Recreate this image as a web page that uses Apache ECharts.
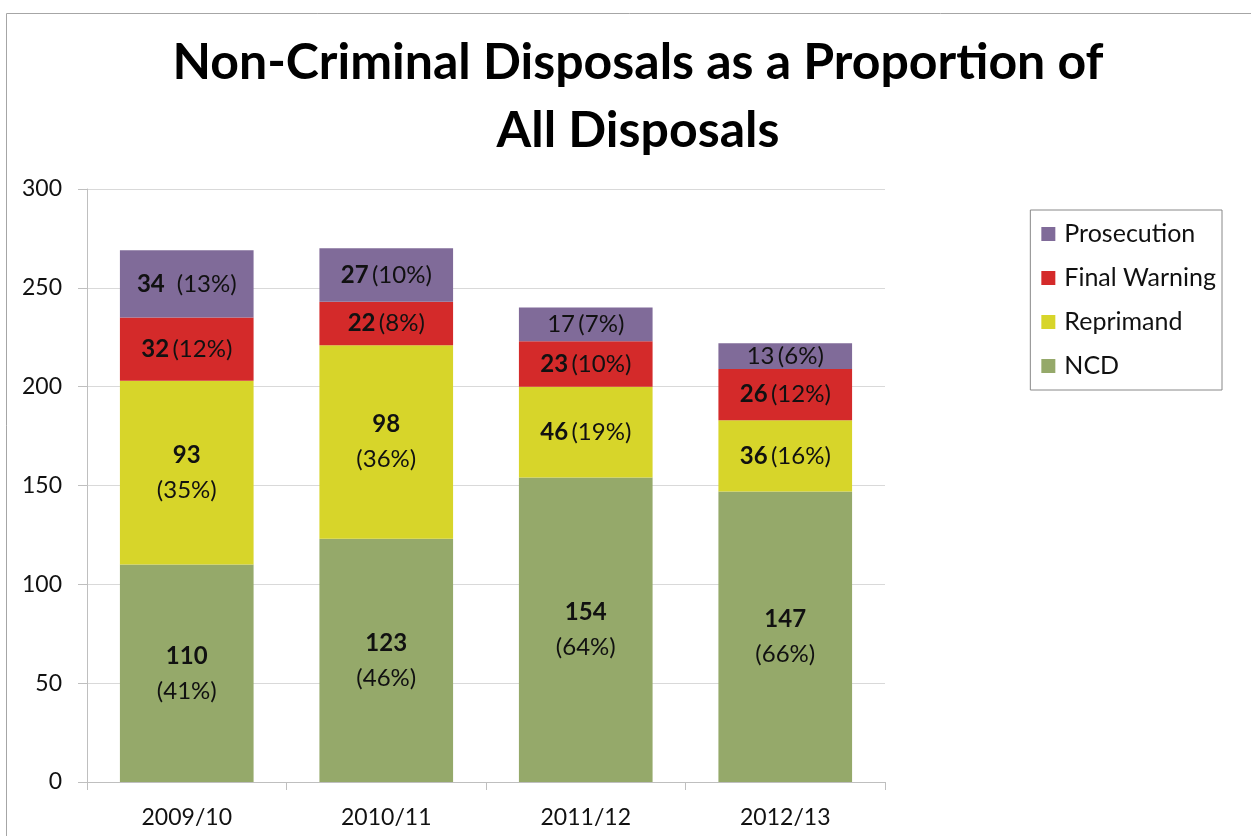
<!DOCTYPE html>
<html>
<head>
<meta charset="utf-8">
<script src="https://cdn.jsdelivr.net/npm/echarts@6/dist/echarts.min.js"></script>
<style>
  html, body { margin: 0; padding: 0; background: #fff; }
  #chart { width: 1251px; height: 836px; }
</style>
</head>
<body>
<div id="chart"></div>
<script>
// Disposal years and counts per disposal type
const years = ['2009/10', '2010/11', '2011/12', '2012/13'];
const ncd = [110, 123, 154, 147];
const reprimand = [93, 98, 46, 36];
const finalWarning = [32, 22, 23, 26];
const prosecution = [34, 27, 17, 13];

// Share of all disposals, as printed on each segment
const ncdPct = [41, 46, 64, 66];
const reprimandPct = [35, 36, 19, 16];
const finalWarningPct = [12, 8, 10, 12];
const prosecutionPct = [13, 10, 7, 6];

const FONT = 'Lato, "Open Sans", sans-serif';

// label layout per segment: stacked (two lines), bold count or not, extra gap
function makeFormatter(values, pcts, twoLine, boldFlags, gaps) {
  return function (p) {
    const i = p.dataIndex;
    const v = values[i];
    const pc = '(' + pcts[i] + '%)';
    const num = boldFlags[i] ? '{b|' + v + '}' : '{n|' + v + '}';
    const sep = twoLine[i] ? '\n' : (gaps[i] ? '{g|}' : ' ');
    return num + sep + '{n|' + pc + '}';
  };
}

const richText = {
  b: { fontFamily: FONT, fontSize: 24, fontWeight: 'bold', color: '#111', lineHeight: 35 },
  n: { fontFamily: FONT, fontSize: 24, color: '#111', lineHeight: 35 },
  g: { width: 12 }
};

function series(name, data, color, fmt) {
  return {
    name: name,
    type: 'bar',
    stack: 'total',
    barWidth: '67%',
    data: data,
    itemStyle: { color: color },
    label: { show: true, position: 'inside', formatter: fmt, rich: richText },
    emphasis: { disabled: true }
  };
}

const chart = echarts.init(document.getElementById('chart'));
chart.setOption({
  animation: false,
  backgroundColor: '#fff',
  title: {
    text: 'Non-Criminal Disposals as a Proportion of\nAll Disposals',
    left: 633,
    top: 24,
    textAlign: 'center',
    textStyle: { fontFamily: FONT, fontSize: 50, fontWeight: 'bold', color: '#000', lineHeight: 68 }
  },
  legend: {
    orient: 'vertical',
    right: 29,
    top: 210,
    data: ['Prosecution', 'Final Warning', 'Reprimand', 'NCD'],
    itemWidth: 14,
    itemHeight: 14,
    itemGap: 18,
    padding: [11, 6, 11, 11],
    borderColor: '#888',
    borderWidth: 1,
    icon: 'rect',
    textStyle: { fontFamily: FONT, fontSize: 25, color: '#111', lineHeight: 26, padding: [0, 0, 0, 4] }
  },
  grid: { left: 87, right: 366, top: 189, bottom: 54 },
  xAxis: {
    type: 'category',
    data: years,
    axisLine: { lineStyle: { color: '#bfbfbf' } },
    axisTick: { show: true, length: 8, lineStyle: { color: '#bfbfbf' } },
    axisLabel: { fontFamily: FONT, fontSize: 23, color: '#111', margin: 24 }
  },
  yAxis: {
    type: 'value',
    min: 0,
    max: 300,
    interval: 50,
    axisLine: { show: true, lineStyle: { color: '#bfbfbf' } },
    axisTick: { show: true, length: 9, lineStyle: { color: '#bfbfbf' } },
    axisLabel: { fontFamily: FONT, fontSize: 23, color: '#111', margin: 25 },
    splitLine: { lineStyle: { color: '#d9d9d9' } }
  },
  series: [
    series('NCD', ncd, '#95a96a',
      makeFormatter(ncd, ncdPct, [true, true, true, true], [true, true, true, true], [false, false, false, false])),
    series('Reprimand', reprimand, '#d7d52a',
      makeFormatter(reprimand, reprimandPct, [true, true, false, false], [true, true, true, true], [false, false, false, false])),
    series('Final Warning', finalWarning, '#d42a2a',
      makeFormatter(finalWarning, finalWarningPct, [false, false, false, false], [true, true, true, true], [false, false, false, false])),
    series('Prosecution', prosecution, '#806b99',
      makeFormatter(prosecution, prosecutionPct, [false, false, false, false], [true, true, false, false], [true, false, false, false]))
  ],
  graphic: [{
    type: 'rect',
    left: 4,
    top: 11,
    shape: { width: 1300, height: 900 },
    style: { fill: 'none', stroke: '#a6a6a6', lineWidth: 1 },
    silent: true
  }]
});
</script>
</body>
</html>
